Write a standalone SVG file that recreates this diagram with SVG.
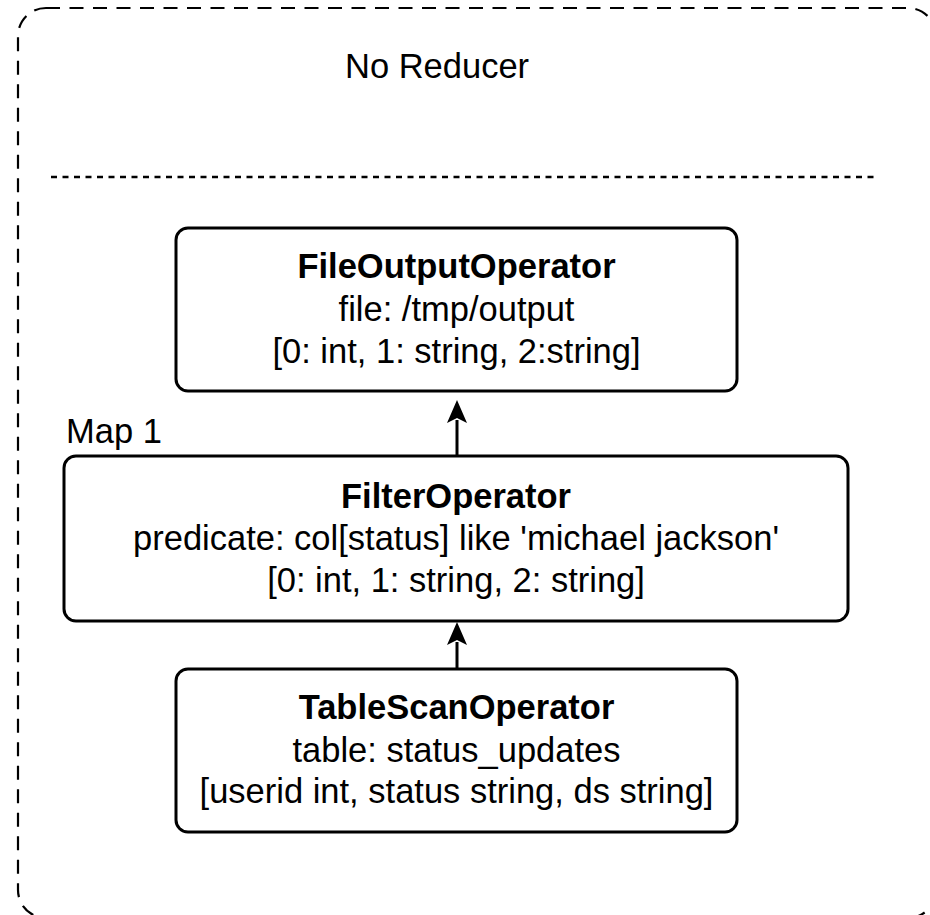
<svg xmlns="http://www.w3.org/2000/svg" width="930" height="915" viewBox="0 0 930 915">
<style>
text{font-family:"Liberation Sans",Arial,sans-serif;font-size:34.5px;fill:#000}
.b{font-weight:bold}
.box{fill:#fff;stroke:#000;stroke-width:3}
.edge{fill:none;stroke:#000;stroke-width:3}
</style>
<defs>
<path id="head" d="M0,0 L-10,23 L0,18 L10,23 Z" fill="#000"/>
</defs>
<rect x="18" y="8" width="918" height="910" rx="28" fill="none" stroke="#000" stroke-width="2.2" stroke-dasharray="14 9.5"/>
<line x1="51" y1="177" x2="877" y2="177" stroke="#000" stroke-width="2.5" stroke-dasharray="6 5.5"/>
<text x="345" y="78">No Reducer</text>
<text x="66" y="443">Map 1</text>
<g id="edges">
<path class="edge" d="M457,669 L457,642"/>
<use href="#head" x="457" y="622"/>
<path class="edge" d="M457,456 L457,420"/>
<use href="#head" x="457" y="400"/>
</g>
<g id="fileoutput">
<rect class="box" x="176" y="228" width="561" height="163" rx="12"/>
<text x="456.5" y="278" text-anchor="middle" class="b">FileOutputOperator</text>
<text x="456.5" y="321" text-anchor="middle">file: /tmp/output</text>
<text x="456.5" y="363" text-anchor="middle">[0: int, 1: string, 2:string]</text>
</g>
<g id="filter">
<rect class="box" x="64" y="456" width="784" height="165" rx="12"/>
<text x="456" y="508" text-anchor="middle" class="b">FilterOperator</text>
<text x="456" y="550" text-anchor="middle">predicate: col[status] like 'michael jackson'</text>
<text x="456" y="592" text-anchor="middle">[0: int, 1: string, 2: string]</text>
</g>
<g id="tablescan">
<rect class="box" x="176" y="669" width="561" height="163" rx="12"/>
<text x="456.5" y="719" text-anchor="middle" class="b">TableScanOperator</text>
<text x="456.5" y="762" text-anchor="middle">table: status_updates</text>
<text x="456.5" y="803" text-anchor="middle">[userid int, status string, ds string]</text>
</g>
</svg>
